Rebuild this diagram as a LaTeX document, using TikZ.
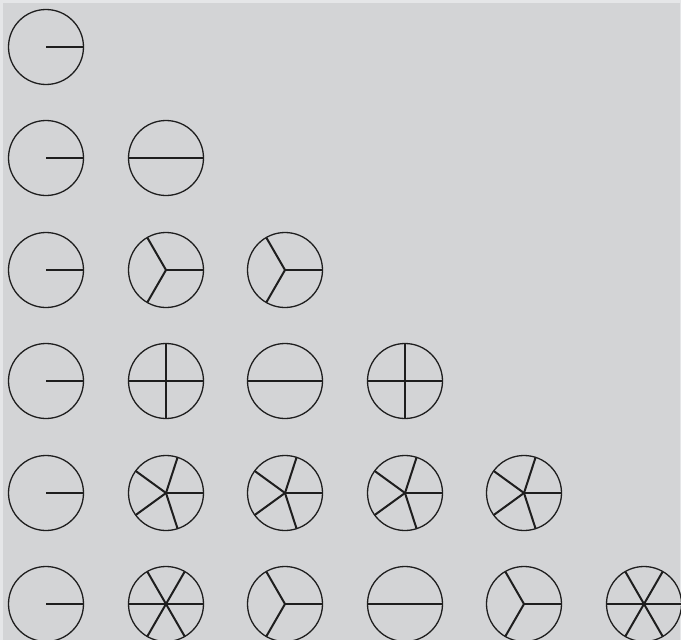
\documentclass[tikz,border=0pt]{standalone}
\usepackage{tikz}
\definecolor{panelgray}{RGB}{211,212,214}
\definecolor{edgegray}{RGB}{229,230,232}
\definecolor{inkgray}{RGB}{30,30,30}

\begin{document}
\begin{tikzpicture}[x=1pt, y=-1pt,
    dial/.style={draw=inkgray, circle, line width=1.3pt, minimum size=75pt, inner sep=0pt, outer sep=0pt},
    spoke/.style={draw=inkgray, line width=2pt}]
    \clip (0,0) rectangle (681,640);
    \fill[edgegray] (0,0) rectangle (681,640);
    \fill[panelgray] (3,3) rectangle (680,640);
    % row n, column k: spokes of z^(k-1) over the n-th roots of unity
    \foreach \n in {1,...,6} {
        \foreach \k in {1,...,\n} {
            \pgfmathtruncatemacro{\spokes}{\n/gcd(\n,\k-1+\n)}
            \pgfmathtruncatemacro{\cx}{round(46+119.6*(\k-1))}
            \pgfmathtruncatemacro{\cy}{round(47+111.4*(\n-1))}
            \node[dial] (c\n\k) at (\cx, \cy) {};
            \foreach \j in {1,...,\spokes} {
                \pgfmathsetmacro{\ang}{360*(\j-1)/\spokes}
                \draw[spoke] (c\n\k.center) -- (c\n\k.\ang);
            }
        }
    }
\end{tikzpicture}
\end{document}
